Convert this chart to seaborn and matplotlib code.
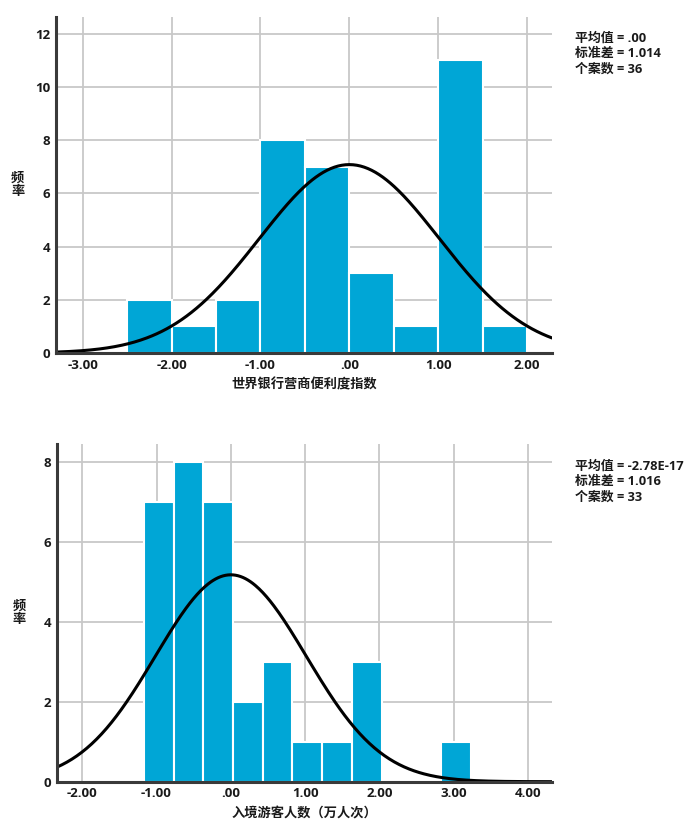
import numpy as np
import pandas as pd
import seaborn as sns
import matplotlib.pyplot as plt
from matplotlib.ticker import FuncFormatter

sns.set_theme(style="white")
plt.rcParams['font.family'] = ['Open Sans', 'Noto Sans CJK SC', 'DejaVu Sans']
plt.rcParams['axes.unicode_minus'] = False

# ---------------------------
# 数据
# 图1：世界银行营商便利度指数
edges_1 = [-2.5, -2.0, -1.5, -1.0, -0.5, 0.0, 0.5, 1.0, 1.5, 2.0]
counts_1 = [2, 1, 2, 8, 7, 3, 1, 11, 1]
mean_1, sd_1, n_1 = 0.0, 1.014, 36
stats_1 = ["平均值 = .00", "标准差 = 1.014", "个案数 = 36"]
xlabel_1 = "世界银行营商便利度指数"
xticks_1 = [-3, -2, -1, 0, 1, 2]
yticks_1 = [0, 2, 4, 6, 8, 10, 12]

# 图2：入境游客人数（万人次）
edges_2 = [-1.17, -0.77, -0.37, 0.03, 0.43, 0.83, 1.23, 1.63, 2.03, 2.43, 2.83, 3.23]
counts_2 = [7, 8, 7, 2, 3, 1, 1, 3, 0, 0, 1]
mean_2, sd_2, n_2 = -2.78e-17, 1.016, 33
stats_2 = ["平均值 = -2.78E-17", "标准差 = 1.016", "个案数 = 33"]
xlabel_2 = "入境游客人数（万人次）"
xticks_2 = [-2, -1, 0, 1, 2, 3, 4]
yticks_2 = [0, 2, 4, 6, 8]

bar_color = "#00A6D6"
grid_color = "#c8c8c8"
spine_color = "#3a3a3a"
text_color = "#1a1a1a"


def fmt_x(v, pos):
    s = f"{v:.2f}"
    if s in ("0.00", "-0.00"):
        return ".00"
    return s


def draw_panel(fig, rect, edges, counts, mean, sd, n, xlim, ylim,
               xticks, yticks, xlabel, stats, stats_pos):
    ax = fig.add_axes(rect)
    centers = [(edges[i] + edges[i + 1]) / 2 for i in range(len(counts))]
    df = pd.DataFrame({"x": centers, "w": counts})
    sns.histplot(data=df, x="x", weights="w", bins=edges, ax=ax,
                 color=bar_color, alpha=1, edgecolor="white", linewidth=1.5,
                 zorder=2)
    # 正态曲线
    width = edges[1] - edges[0]
    xs = np.linspace(xlim[0], xlim[1], 400)
    ys = n * width / (sd * np.sqrt(2 * np.pi)) * np.exp(-0.5 * ((xs - mean) / sd) ** 2)
    sns.lineplot(x=xs, y=ys, ax=ax, color="black", linewidth=2.2, zorder=3)

    ax.set_xlim(*xlim)
    ax.set_ylim(*ylim)
    ax.set_xticks(xticks)
    ax.set_yticks(yticks)
    ax.xaxis.set_major_formatter(FuncFormatter(fmt_x))
    ax.grid(True, color=grid_color, linewidth=1.3, zorder=0)
    ax.set_axisbelow(True)
    for s in ["top", "right"]:
        ax.spines[s].set_visible(False)
    for s in ["left", "bottom"]:
        ax.spines[s].set_color(spine_color)
        ax.spines[s].set_linewidth(2.2)
        ax.spines[s].set_zorder(4)
    ax.tick_params(axis="both", length=0, labelsize=9.5, colors=text_color)
    ax.tick_params(axis="x", pad=4)
    ax.tick_params(axis="y", pad=4)
    for lab in ax.get_xticklabels() + ax.get_yticklabels():
        lab.set_fontweight("bold")

    ax.set_xlabel(xlabel, fontsize=9.5, fontweight="bold", color=text_color)
    ax.xaxis.set_label_coords(0.5, -0.095)
    ax.xaxis.label.set_va("center")
    ax.set_ylabel("频\n率", rotation=0, fontsize=9.5, fontweight="bold",
                  color=text_color, linespacing=1.0)
    ax.yaxis.set_label_coords(-0.077, 0.5)
    ax.yaxis.label.set_va("center")
    ax.yaxis.label.set_ha("center")

    fig.text(stats_pos[0], stats_pos[1], "\n".join(stats), fontsize=9.3,
             fontweight="bold", color=text_color, va="top", ha="left",
             linespacing=1.25)
    return ax


fig = plt.figure(figsize=(6.88, 8.21), dpi=100)

draw_panel(fig, [56 / 688, 1 - 353 / 821, 496 / 688, 336 / 821],
           edges_1, counts_1, mean_1, sd_1, n_1,
           (-3.30, 2.28), (0, 12.63), xticks_1, yticks_1, xlabel_1, stats_1,
           (575 / 688, 1 - 32 / 821))

draw_panel(fig, [57 / 688, 1 - 781.7 / 821, 494.7 / 688, 337.7 / 821],
           edges_2, counts_2, mean_2, sd_2, n_2,
           (-2.34, 4.32), (0, 8.46), xticks_2, yticks_2, xlabel_2, stats_2,
           (575 / 688, 1 - 460 / 821))

fig.savefig("out.png", dpi=100, facecolor="white")
